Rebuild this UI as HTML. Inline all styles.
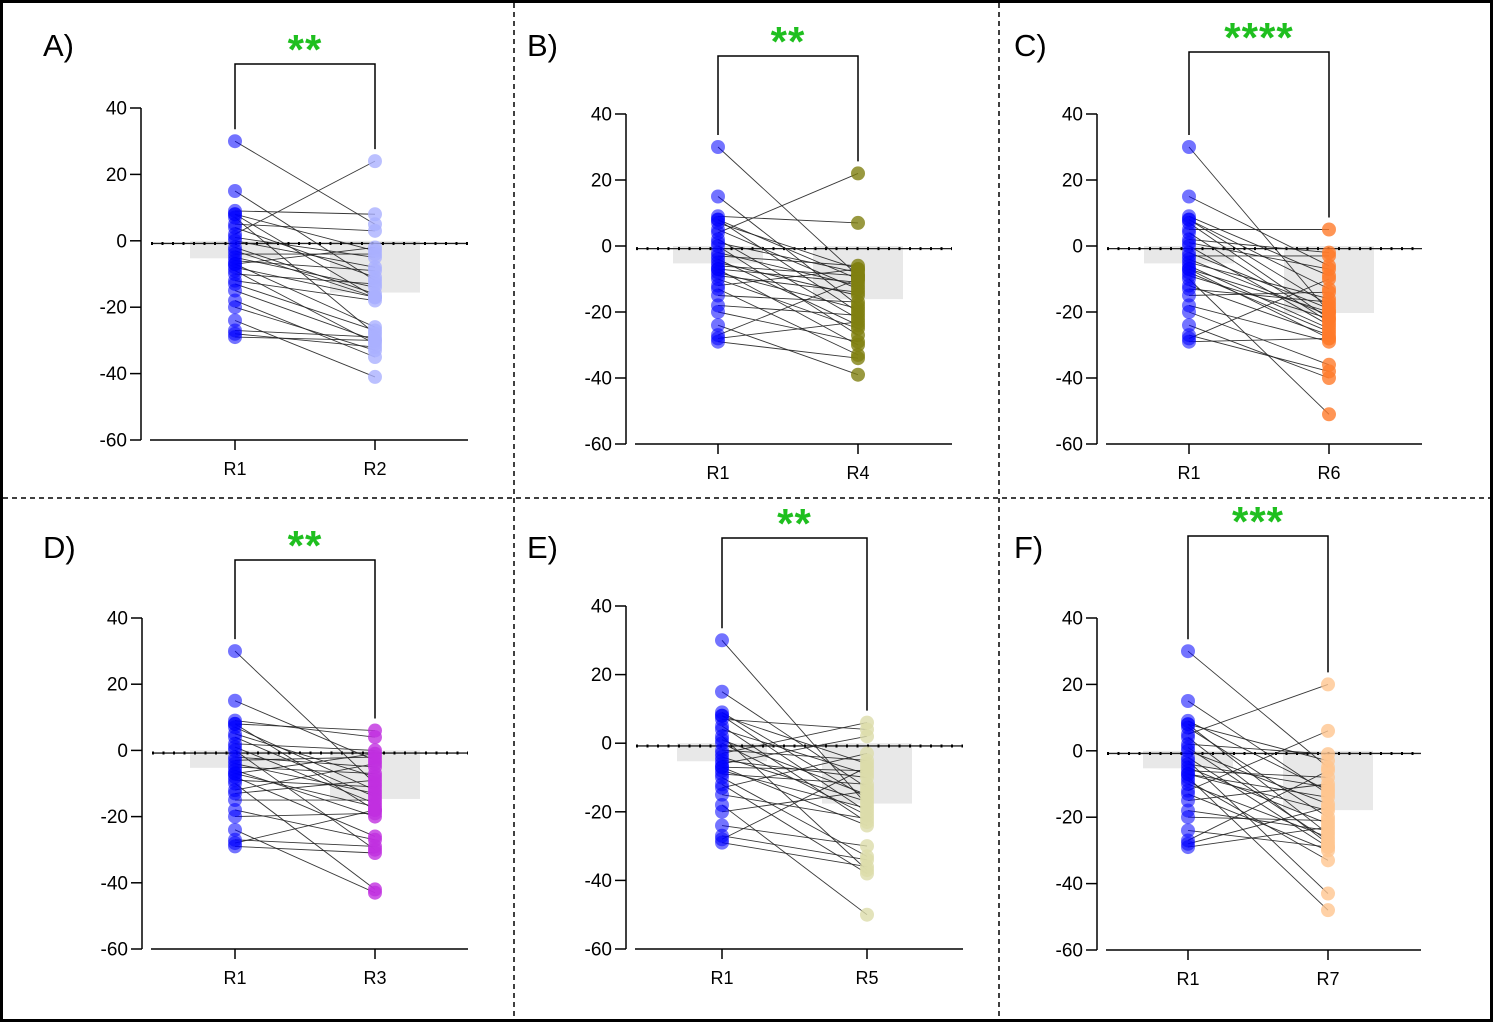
<!DOCTYPE html>
<html><head><meta charset="utf-8"><style>
html,body{margin:0;padding:0;background:#fff;}
svg{display:block;font-family:"Liberation Sans",Arial,sans-serif;}
</style></head><body>
<svg id="chart" width="1493" height="1022" viewBox="0 0 1493 1022" xmlns="http://www.w3.org/2000/svg">
<rect x="1.5" y="1.5" width="1490" height="1019" fill="none" stroke="#000" stroke-width="3"/>
<line x1="3" y1="498" x2="1490" y2="498" stroke="#000" stroke-width="1.5" stroke-dasharray="5,4"/>
<line x1="514" y1="3" x2="514" y2="1019" stroke="#000" stroke-width="1.5" stroke-dasharray="5,4"/>
<line x1="999" y1="3" x2="999" y2="1019" stroke="#000" stroke-width="1.5" stroke-dasharray="5,4"/>
</svg>
<script>
const yTicks = [40, 20, 0, -20, -40, -60];
const r1 = [30,15,9,8,8,7,5,4,2,1,0,-2,-3,-4,-5,-6,-7,-7,-8,-9,-10,-12,-13,-15,-18,-20,-24,-27,-28,-29];
const r2 = [5,-12,8,-17,-3,-28,3,-11,24,-5,-8,-16,-17,-4,-14,-9,-2,-26,-17,-31,-13,-18,-27,-30,-35,-33,-41,-29,-32,-30];
const r4 = [-9,-18,7,-10,-20,-7,-13,22,-22,-8,-27,-12,-6,-24,-15,-9,-30,-11,-19,-14,-25,-7,-33,-17,-21,-29,-39,-10,-23,-34];
const r6 = [-20,-6,-9,-13,-18,-22,5,-23,-2,-7,-24,-19,-3,-21,-16,-25,-28,-20,-26,-22,-51,-27,-17,-14,-29,-36,-40,-38,-10,-28];
const r3 = [-10,-3,4,-18,6,-12,-8,-14,0,-16,-30,-5,-2,-13,-7,-20,-1,-17,-26,-11,-42,-4,-9,-15,-27,-19,-43,-29,-18,-31];
const r5 = [-18,-13,-16,-20,-6,4,-23,-9,-37,-15,-21,-5,6,-17,-10,2,-24,-8,-19,-12,-33,-38,-3,-22,-50,-14,-30,-34,-7,-36];
const r7 = [-5,-13,-12,-25,-3,-20,20,-28,-1,-27,-16,-29,-43,-11,-22,-8,-18,-14,-48,-33,-26,6,-30,-10,-24,-21,-29,-6,-17,-23];
const panelLetters = ["A)","B)","C)","D)","E)","F)"];
const secondNames = ["R2","R4","R6","R3","R5","R7"];
const secondData = [r2, r4, r6, r3, r5, r7];
const stars = ["**","**","****","**","**","***"];

const layouts = [
  {ax:141, yTop:108, yBot:440, c1:235, c2:375, xEnd:468, br:64,  lx:43,  ly:45,  col:"#aab0ff"},
  {ax:626, yTop:114, yBot:444, c1:718, c2:858, xEnd:952, br:56,  lx:527, ly:45,  col:"#7f7f10"},
  {ax:1097,yTop:114, yBot:444, c1:1189,c2:1329,xEnd:1422,br:52,  lx:1014,ly:45,  col:"#ff7a2a"},
  {ax:142, yTop:618, yBot:949, c1:235, c2:375, xEnd:468, br:560, lx:43,  ly:547, col:"#c030e0"},
  {ax:626, yTop:606, yBot:949, c1:722, c2:867, xEnd:963, br:538, lx:527, ly:547, col:"#dcdcaa"},
  {ax:1097,yTop:618, yBot:950, c1:1188,c2:1328,xEnd:1421,br:536, lx:1014,ly:547, col:"#ffc690"}
];
const NS = "http://www.w3.org/2000/svg";
const svg = document.getElementById('chart');
function mk(tag, attrs, parent){ const e=document.createElementNS(NS,tag); for(const k in attrs) e.setAttribute(k,attrs[k]); (parent||svg).appendChild(e); return e; }
const mean = a => a.reduce((s,v)=>s+v,0)/a.length;

layouts.forEach((L, i) => {
  const g = mk('g', {});
  
  
  const y = v => L.yTop + (40 - v) * (L.yBot - L.yTop) / 100;
  const data2 = secondData[i];
  const m1 = mean(r1), m2 = mean(data2);
  const b1 = mk('rect', {x:L.c1-45, y:y(0), width:90, height:y(m1)-y(0), fill:"#e8e8e8"}, g);
  
  
  const b2 = mk('rect', {x:L.c2-45, y:y(0), width:90, height:y(m2)-y(0), fill:"#e8e8e8"}, g);
  
  
  const z = mk('line', {x1:L.ax+10, y1:y(-0.8), x2:L.xEnd, y2:y(-0.8), stroke:"#222", "stroke-width":1.3}, g);
  
  
  const zd = mk('line', {x1:L.ax+10, y1:y(-0.8), x2:L.xEnd, y2:y(-0.8), stroke:"#000", "stroke-width":3, "stroke-dasharray":"2,8.5"}, g);
  
  
  const ya = mk('line', {x1:L.ax, y1:L.yTop, x2:L.ax, y2:L.yBot, stroke:"#000", "stroke-width":1.5}, g);
  
  
  const xa = mk('line', {x1:L.ax+9, y1:L.yBot, x2:L.xEnd, y2:L.yBot, stroke:"#000", "stroke-width":1.5}, g);
  
  
  yTicks.forEach(t => {
    const tk = mk('line', {x1:L.ax-11, y1:y(t), x2:L.ax, y2:y(t), stroke:"#000", "stroke-width":1.5}, g);
    
    
    const tl = mk('text', {x:L.ax-14, y:y(t)+6.5, "text-anchor":"end", "font-size":19, fill:"#000"}, g);
    tl.textContent = String(t);
    
    
  });
  [[L.c1,"R1"],[L.c2,secondNames[i]]].forEach(([cx,name]) => {
    const tk = mk('line', {x1:cx, y1:L.yBot, x2:cx, y2:L.yBot+10, stroke:"#000", "stroke-width":1.5}, g);
    
    
    const tl = mk('text', {x:cx, y:L.yBot+35, "text-anchor":"middle", "font-size":18, fill:"#000"}, g);
    tl.textContent = name;
    
    
  });
  r1.forEach((v, k) => {
    const ln = mk('line', {x1:L.c1, y1:y(v), x2:L.c2, y2:y(data2[k]), stroke:"#222", "stroke-width":0.9, opacity:0.9}, g);
    
    
  });
  r1.forEach(v => {
    const c = mk('circle', {cx:L.c1, cy:y(v), r:7, fill:"#0000ff", "fill-opacity":0.55}, g);
    
    
  });
  data2.forEach(v => {
    const c = mk('circle', {cx:L.c2, cy:y(v), r:7, fill:L.col, "fill-opacity":0.8}, g);
    
    
  });
  const top1 = y(Math.max(...r1)) - 12, top2 = y(Math.max(...data2)) - 12;
  const br = mk('path', {d:`M${L.c1},${top1} V${L.br} H${L.c2} V${top2}`, fill:"none", stroke:"#000", "stroke-width":1.5}, g);
  
  
  const st = mk('text', {x:(L.c1+L.c2)/2, y:L.br, "text-anchor":"middle", "font-size":42, "font-weight":"bold", "letter-spacing":"1", fill:"#1fbf1f"}, g);
  st.textContent = stars[i];
  
  
  const lt = mk('text', {x:L.lx, y:L.ly+11, "font-size":31, fill:"#000"}, g);
  lt.textContent = panelLetters[i];
  
  
});
</script>
</body></html>
